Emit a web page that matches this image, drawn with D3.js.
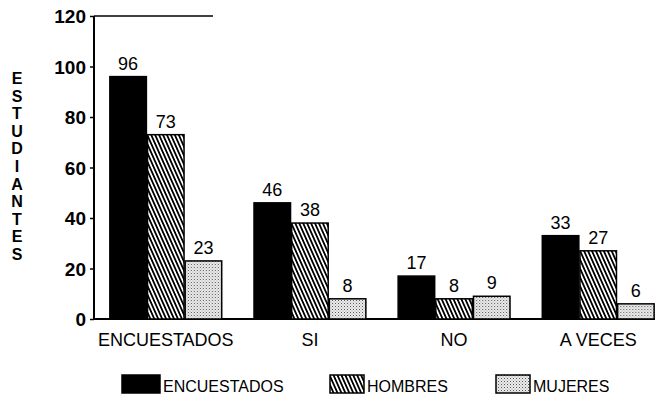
<!DOCTYPE html>
<html><head><meta charset="utf-8">
<script src="https://cdn.jsdelivr.net/npm/d3@7"></script>
<style>body{margin:0;background:#fff}svg{display:block}text{font-family:"Liberation Sans",Arial,sans-serif;fill:#000}</style>
</head><body>
<svg id="c" width="660" height="402"></svg>
<script>
const categories = ["ENCUESTADOS","SI","NO","A VECES"];
const seriesNames = ["ENCUESTADOS","HOMBRES","MUJERES"];
const encuestados = [96,46,17,33];
const hombres = [73,38,8,27];
const mujeres = [23,8,9,6];
const yTicks = [0,20,40,60,80,100,120];
const yTitle = "ESTUDIANTES";

const svg = d3.select("#c");
const defs = svg.append("defs");
const hatch = defs.append("pattern").attr("id","hatch").attr("patternUnits","userSpaceOnUse")
  .attr("width",3.6).attr("height",10).attr("patternTransform","rotate(-24)");
hatch.append("rect").attr("width",3.6).attr("height",10).attr("fill","#fff");
hatch.append("rect").attr("x",0).attr("width",1.8).attr("height",10).attr("fill","#000");
const dots = defs.append("pattern").attr("id","dots").attr("patternUnits","userSpaceOnUse").attr("width",3).attr("height",3);
dots.append("rect").attr("width",3).attr("height",3).attr("fill","#ececec");
dots.append("rect").attr("x",0).attr("y",0).attr("width",1).attr("height",1).attr("fill","#555");
dots.append("rect").attr("x",1.5).attr("y",1.5).attr("width",1).attr("height",1).attr("fill","#999");
const fills = ["#000","url(#hatch)","url(#dots)"];

const y = d3.scaleLinear().domain([0,120]).range([319,16]);
const x0 = d3.scaleBand().domain(categories).range([94,670]).paddingInner(0.224).paddingOuter(0.11);
const x1 = d3.scaleBand().domain(seriesNames).range([0,x0.bandwidth()]).paddingInner(0.03);

const data = categories.map((c,i)=>({cat:c, vals:[encuestados[i],hombres[i],mujeres[i]]}));

// axes
const yAxis = d3.axisLeft(y).tickValues(yTicks).tickSize(4).tickPadding(4);
const gy = svg.append("g").attr("transform","translate(94,0)").call(yAxis);
gy.select(".domain").attr("stroke","#000").attr("stroke-width",2).attr("d","M0,16V319");
gy.selectAll(".tick line").attr("stroke","#000").attr("stroke-width",1.5);
gy.selectAll(".tick text").attr("font-size",19).attr("font-weight","bold").attr("dy","0.36em").style("font-family","'Liberation Sans',Arial,sans-serif");
svg.append("line").attr("x1",94).attr("x2",213).attr("y1",16).attr("y2",16).attr("stroke","#000").attr("stroke-width",1.5);
svg.append("line").attr("x1",93).attr("x2",655).attr("y1",y(0)).attr("y2",y(0)).attr("stroke","#000").attr("stroke-width",2);

const g = svg.selectAll(".grp").data(data).enter().append("g").attr("transform",d=>`translate(${x0(d.cat)},0)`);
g.selectAll("rect").data(d=>d.vals.map((v,j)=>({v,s:seriesNames[j],j}))).enter().append("rect")
  .attr("x",d=>x1(d.s)).attr("width",x1.bandwidth()).attr("y",d=>y(d.v)).attr("height",d=>y(0)-y(d.v))
  .attr("fill",d=>fills[d.j]).attr("stroke","#000").attr("stroke-width",1.5);
g.selectAll("text.v").data(d=>d.vals.map((v,j)=>({v,s:seriesNames[j]}))).enter().append("text")
  .attr("x",d=>x1(d.s)+x1.bandwidth()/2).attr("y",d=>y(d.v)-7).attr("text-anchor","middle")
  .attr("font-size",18).text(d=>d.v);

// category labels
svg.selectAll("text.cat").data(categories).enter().append("text")
  .attr("x",d=>x0(d)+x0.bandwidth()/2).attr("y",346).attr("text-anchor","middle")
  .attr("font-size",18).text(d=>d);

// y title stacked
svg.append("g").selectAll("text").data(yTitle.split("")).enter().append("text")
  .attr("x",17).attr("y",(d,i)=>84+i*17.6).attr("text-anchor","middle").attr("font-size",16).attr("font-weight","bold").text(d=>d);

// legend
const legendX = [122,330,496];
const legendW = [38,34,34];
const lg = svg.selectAll("g.leg").data(seriesNames).enter().append("g");
lg.append("rect").attr("x",(d,i)=>legendX[i]).attr("y",375).attr("width",(d,i)=>legendW[i]).attr("height",18)
  .attr("fill",(d,i)=>fills[i]).attr("stroke","#000").attr("stroke-width",1.5);
lg.append("text").attr("x",(d,i)=>legendX[i]+legendW[i]+3).attr("y",392).attr("font-size",16).text(d=>d);
</script>
</body></html>
